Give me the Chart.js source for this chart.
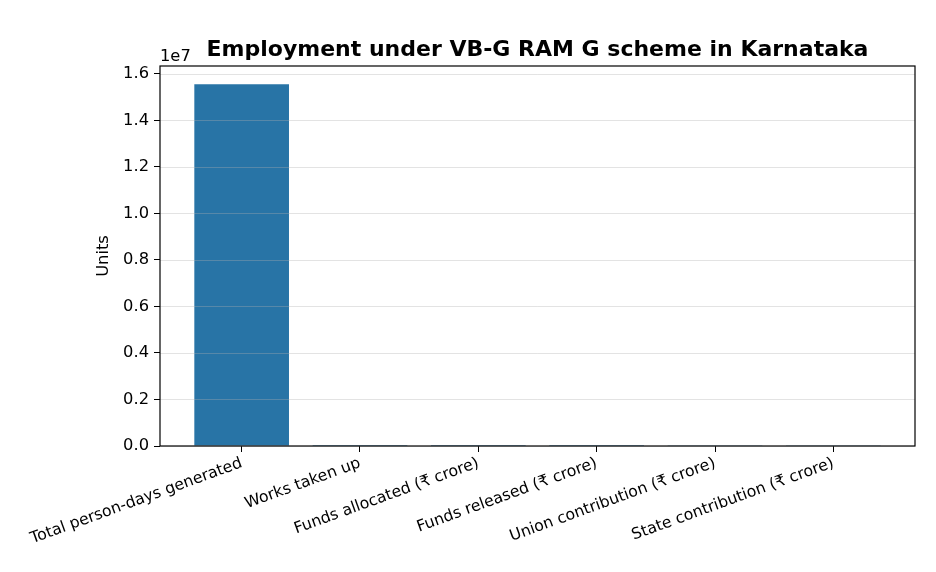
<!DOCTYPE html>
<html>
<head>
<meta charset="utf-8">
<script src="https://cdn.jsdelivr.net/npm/chart.js@4.4.0/dist/chart.umd.min.js"></script>
<style>
  html, body { margin: 0; padding: 0; background: #fff; }
  #wrap { width: 936px; height: 572px; }
</style>
</head>
<body>
<div id="wrap"><canvas id="chart" width="936" height="572"></canvas></div>
<script>
const categories = [
  'Total person-days generated',
  'Works taken up',
  'Funds allocated (₹ crore)',
  'Funds released (₹ crore)',
  'Union contribution (₹ crore)',
  'State contribution (₹ crore)'
];
const units = [15560000, 4200, 38000, 1800, 27000, 8000];
const yTicks = [0, 2e6, 4e6, 6e6, 8e6, 10e6, 12e6, 14e6, 16e6];

const FONT = 'DejaVu Sans';
const TICK_SIZE = 16.3;
const barColor = '#2874a6';

// box around the axes, grid on top of bars, title, y label and the 1e7 offset text
const decor = {
  id: 'decor',
  afterDatasetsDraw(chart) {
    const { ctx, chartArea: a, scales: { y } } = chart;
    ctx.save();
    ctx.strokeStyle = 'rgba(176,176,176,0.35)';
    ctx.lineWidth = 1;
    yTicks.forEach(v => {
      const py = Math.round(y.getPixelForValue(v)) + 0.5;
      ctx.beginPath();
      ctx.moveTo(a.left, py);
      ctx.lineTo(a.right, py);
      ctx.stroke();
    });
    ctx.strokeStyle = '#000';
    ctx.lineWidth = 1.2;
    ctx.strokeRect(a.left, a.top, a.right - a.left, a.bottom - a.top);
    ctx.fillStyle = '#000';
    ctx.font = 'bold 22px "' + FONT + '"';
    ctx.textAlign = 'center';
    ctx.textBaseline = 'alphabetic';
    ctx.fillText('Employment under VB-G RAM G scheme in Karnataka', (a.left + a.right) / 2, 56);
    ctx.font = TICK_SIZE + 'px "' + FONT + '"';
    ctx.textAlign = 'left';
    ctx.fillText('1e7', a.left, 61);
    ctx.translate(108, (a.top + a.bottom) / 2);
    ctx.rotate(-Math.PI / 2);
    ctx.textAlign = 'center';
    ctx.fillText('Units', 0, 0);
    ctx.restore();
  }
};

new Chart(document.getElementById('chart'), {
  type: 'bar',
  data: {
    datasets: [{
      data: units.map((v, i) => ({ x: i, y: v })),
      backgroundColor: barColor,
      borderWidth: 0,
      barPercentage: 0.8,
      categoryPercentage: 1.0
    }]
  },
  options: {
    responsive: false,
    animation: false,
    layout: { padding: { left: 0, right: 21, top: 66, bottom: 0 } },
    plugins: { legend: { display: false }, title: { display: false }, tooltip: { enabled: false } },
    scales: {
      x: {
        type: 'linear',
        offset: false,
        min: -0.69,
        max: 5.69,
        afterBuildTicks(axis) { axis.ticks = categories.map((_, i) => ({ value: i })); },
        afterFit(axis) { axis.height = 126; },
        grid: { drawOnChartArea: false, drawTicks: true, tickLength: 6, color: '#000', offset: false },
        border: { display: false },
        ticks: {
          autoSkip: false,
          minRotation: 20,
          maxRotation: 20,
          padding: 2,
          color: '#000',
          font: { family: FONT, size: 15.7 },
          callback: v => categories[v]
        }
      },
      y: {
        min: 0,
        max: 16340000,
        afterBuildTicks(axis) { axis.ticks = yTicks.map(v => ({ value: v })); },
        afterFit(axis) { axis.width = 160; },
        grid: { drawOnChartArea: false, drawTicks: true, tickLength: 6, color: '#000' },
        border: { display: false },
        ticks: {
          color: '#000',
          padding: 5,
          font: { family: FONT, size: TICK_SIZE },
          callback: v => (v / 1e7).toFixed(1)
        }
      }
    }
  },
  plugins: [decor]
});
</script>
</body>
</html>
